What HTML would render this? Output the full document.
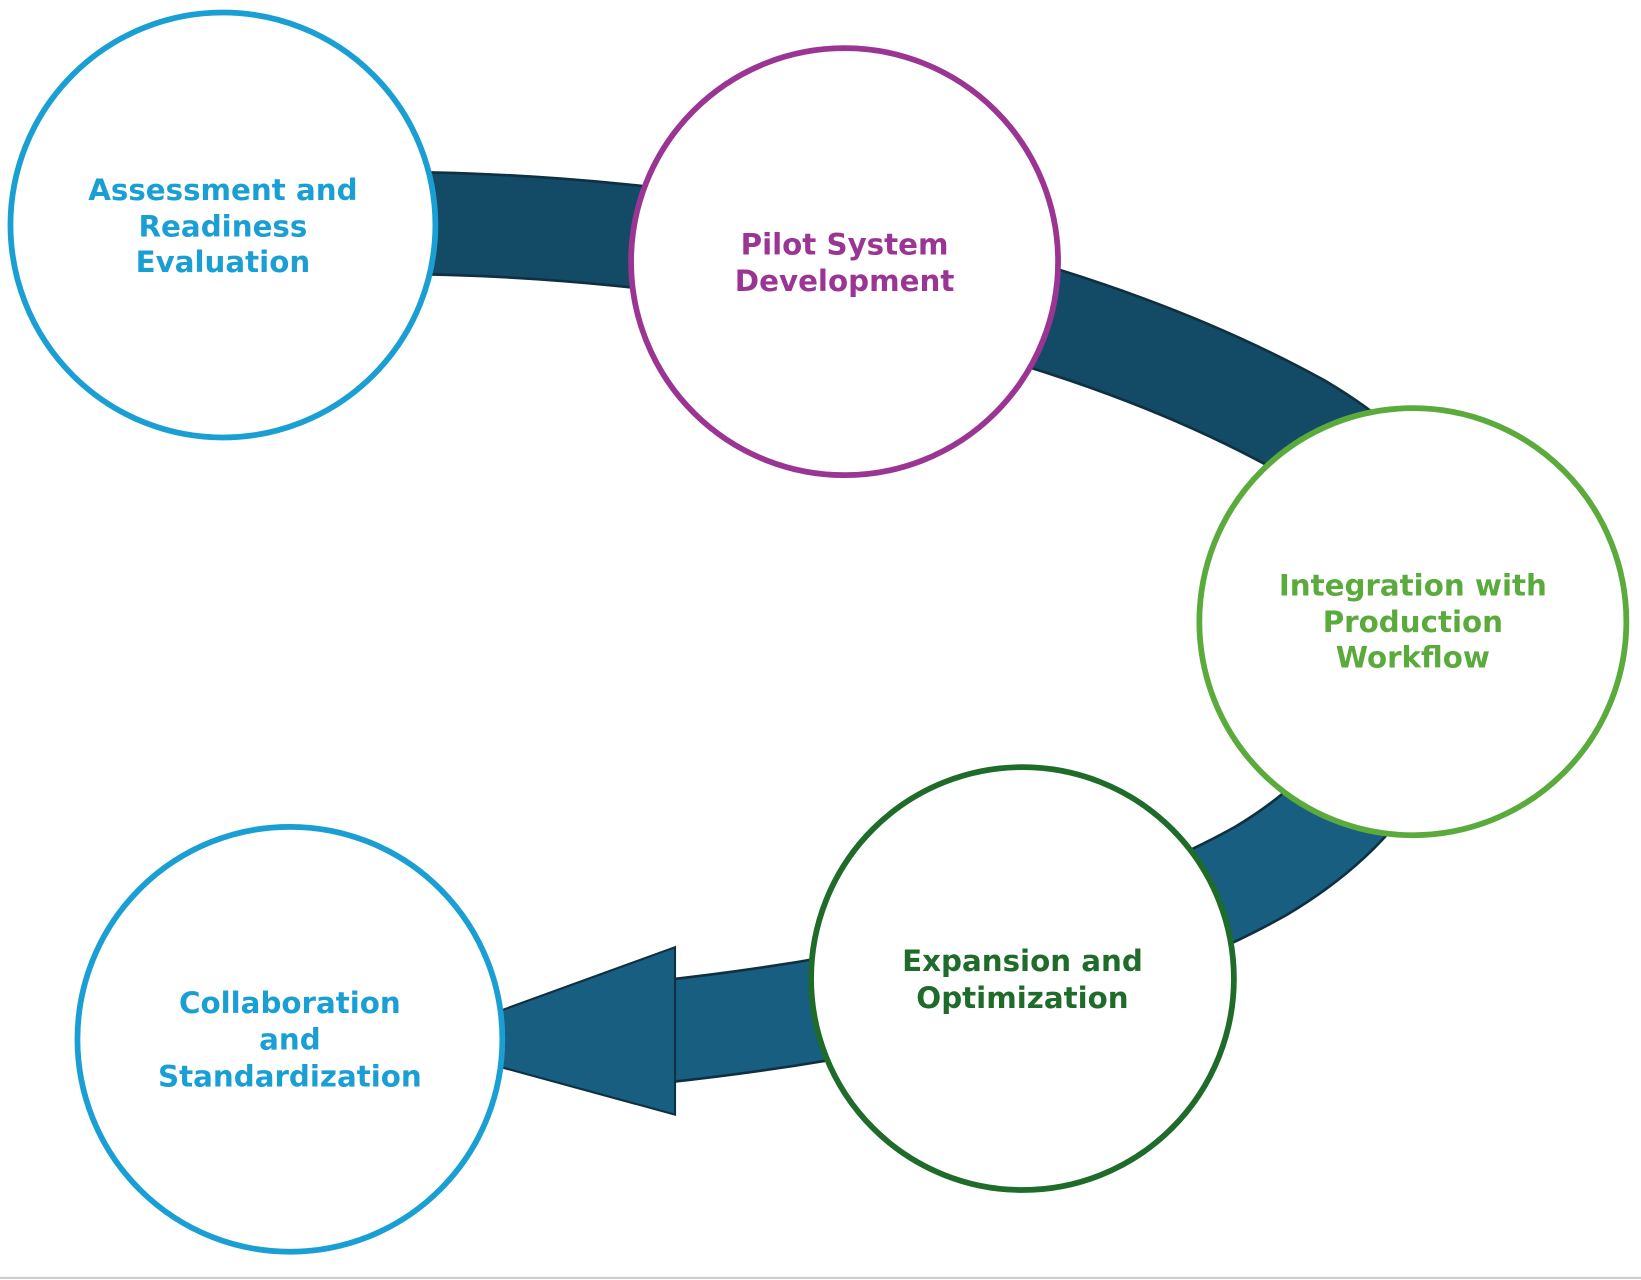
<!DOCTYPE html>
<html><head><meta charset="utf-8"><style>
html,body{margin:0;padding:0;background:#fff;}
svg{display:block;}
text{font-family:"DejaVu Sans","Liberation Sans",sans-serif;font-weight:bold;font-size:28px;text-anchor:middle;}
</style></head><body>
<svg width="1641" height="1280" viewBox="0 0 1568 1223" preserveAspectRatio="none" xmlns="http://www.w3.org/2000/svg">
<rect x="0" y="0" width="1568" height="1223" fill="#fff"/>
<line x1="0" y1="1221" x2="1568" y2="1221" stroke="#ccc" stroke-width="2"/>
<path d="M 380 213 C 650 215 990 268 1240 405 C 1360 475 1390 560 1340 600" fill="none" stroke="#0e3040" stroke-width="100"/>
<path d="M 380 213 C 650 215 990 268 1240 405 C 1360 475 1390 560 1340 600" fill="none" stroke="#134b66" stroke-width="95"/>
<path d="M 1340 600 C 1355 700 1300 775 1205 832 C 1080 902 890 958 630 986" fill="none" stroke="#0e3040" stroke-width="100"/>
<path d="M 1340 600 C 1355 700 1300 775 1205 832 C 1080 902 890 958 630 986" fill="none" stroke="#175e80" stroke-width="95"/>
<polygon points="645,905 480,965 480,1020 645,1065" fill="#175e80" stroke="#0e3040" stroke-width="2"/>
<circle cx="213" cy="215" r="203" fill="#fff" stroke="#1a9fd4" stroke-width="5.5"/>
<circle cx="807" cy="250" r="204" fill="#fff" stroke="#9b3594" stroke-width="5.5"/>
<circle cx="1350" cy="594" r="204" fill="#fff" stroke="#5aaa3c" stroke-width="5.5"/>
<circle cx="977" cy="935" r="202" fill="#fff" stroke="#1e6b2a" stroke-width="5.5"/>
<circle cx="277" cy="993" r="203" fill="#fff" stroke="#1a9fd4" stroke-width="5.5"/>
<text fill="#1a9fd4"><tspan x="213" y="191">Assessment and</tspan><tspan x="213" y="226">Readiness</tspan><tspan x="213" y="260">Evaluation</tspan></text>
<text fill="#9b3594"><tspan x="807" y="243">Pilot System</tspan><tspan x="807" y="278">Development</tspan></text>
<text fill="#5aaa3c"><tspan x="1350" y="569">Integration with</tspan><tspan x="1350" y="604">Production</tspan><tspan x="1350" y="638">Workflow</tspan></text>
<text fill="#1e6b2a"><tspan x="977" y="928">Expansion and</tspan><tspan x="977" y="963">Optimization</tspan></text>
<text fill="#1a9fd4"><tspan x="277" y="968">Collaboration</tspan><tspan x="277" y="1003">and</tspan><tspan x="277" y="1038">Standardization</tspan></text>
</svg>
</body></html>
